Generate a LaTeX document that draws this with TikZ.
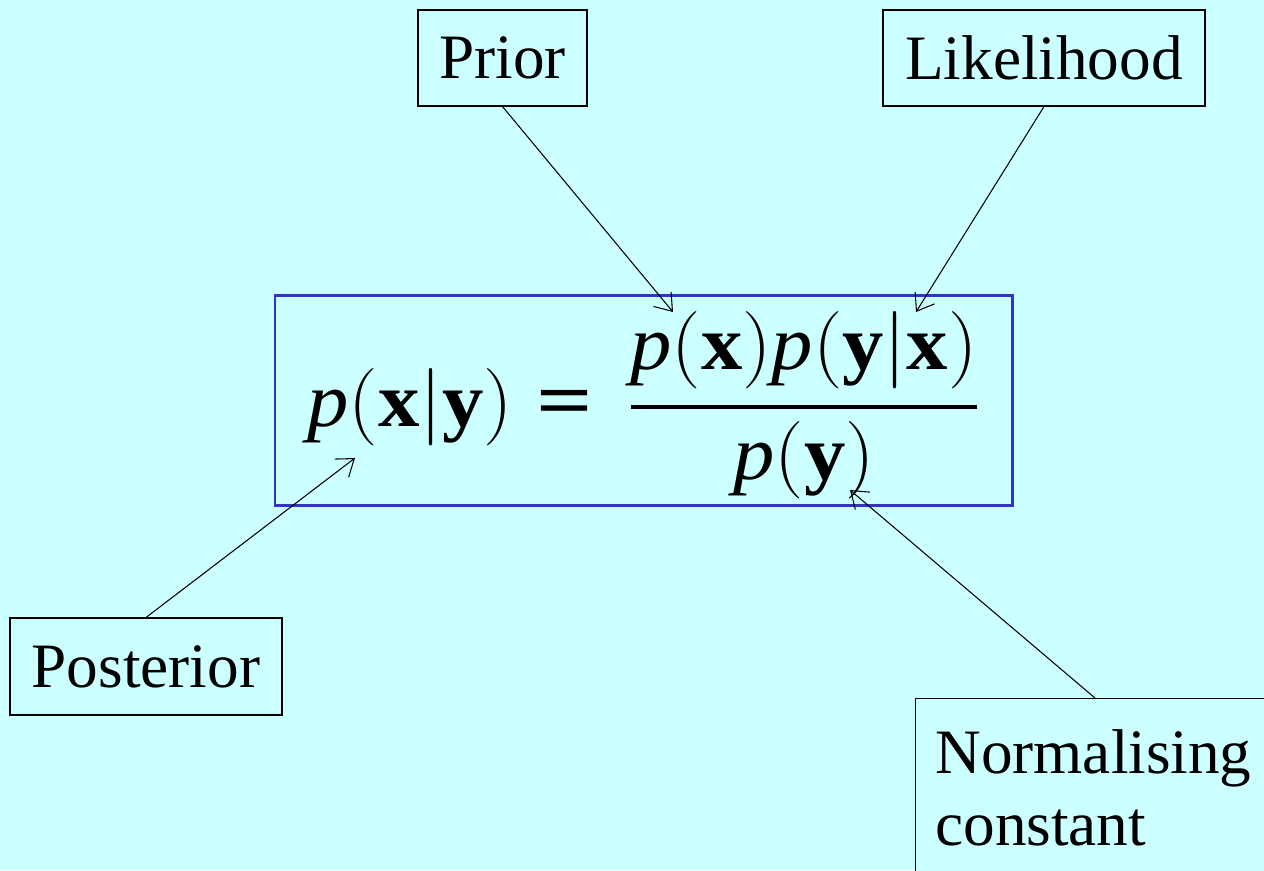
\documentclass[tikz,border=0pt]{standalone}
\usepackage{fix-cm}
\usepackage{amsmath}
\usepackage{graphicx}
\usepackage{fontspec}
\setmainfont{Liberation Serif}
\usetikzlibrary{arrows.meta,calc}
\definecolor{bgcyan}{RGB}{204,255,255}
\definecolor{eqblue}{RGB}{51,51,204}
\newcommand{\Pp}{\mathit{p}}
\newcommand{\Lp}{\mathrm{(}}
\newcommand{\Rp}{\mathrm{)}}
\newcommand{\Vb}{\mathrm{|}}
\newcommand{\Bx}{\mathbf{x}}
\newcommand{\By}{\mathbf{y}}
\newcommand{\Eq}{\text{\scalebox{1.2}[1]{\textbf{=}}}}
\begin{document}
\begin{tikzpicture}[x=0.02cm,y=-0.02cm,
  lbl/.style={draw=black,line width=0.6pt,fill=bgcyan,font=\fontsize{36}{44}\selectfont,inner sep=0pt},
  ptr/.style={draw=black,line width=0.6pt,-{Straight Barb[length=9pt,width=13pt,line width=0.6pt]}}]
\useasboundingbox[fill=bgcyan] (0,0) rectangle (1264,870);
% equation box
\node[draw=eqblue,line width=1.7pt,minimum width=737*0.02cm,minimum height=210*0.02cm,inner sep=0pt] (eqbox) at (643.5,400) {};
\node[inner sep=0pt,font=\fontsize{44}{52}\selectfont,anchor=base west] (eq) at (307,426)
  {\scalebox{1.07}[1]{$\displaystyle \Pp\Lp\Bx\Vb\By\Rp \hspace{0.28em}\Eq\hspace{0.43em} \genfrac{}{}{2.3pt}{0}{\rule[-13pt]{0pt}{13pt}\Pp\Lp\Bx\Rp\Pp\Lp\By\Vb\Bx\Rp}{\Pp\Lp\By\Rp}$}};
% labels
\node[lbl,minimum width=169*0.02cm,minimum height=96*0.02cm] (prior) at (502.5,58) {Prior};
\node[lbl,minimum width=322*0.02cm,minimum height=96*0.02cm] (lik) at (1044,58) {Likelihood};
\node[lbl,minimum width=272*0.02cm,minimum height=97*0.02cm] (post) at (146,666.5) {Posterior};
\node[lbl,anchor=north west,minimum width=400*0.02cm,minimum height=200*0.02cm] (norm) at (915,698) {};
\node[font=\fontsize{36}{44}\selectfont,anchor=base west,inner sep=0pt] (n1) at (935,773) {Normalising};
\node[font=\fontsize{36}{44}\selectfont,anchor=base west,inner sep=0pt] (n2) at (935,845) {constant};
% targets
\coordinate (tprior) at (673,312);
\coordinate (tlik) at (916,312);
\coordinate (tpost) at (355,458);
\coordinate (tnorm) at (850,490);
\coordinate (snorm) at (1095,698);
% connectors
\draw[ptr] (prior.south) -- (tprior);
\draw[ptr] (lik.south) -- (tlik);
\draw[ptr] (post.north) -- (tpost);
\draw[ptr] (snorm) -- (tnorm);
\end{tikzpicture}
\end{document}
